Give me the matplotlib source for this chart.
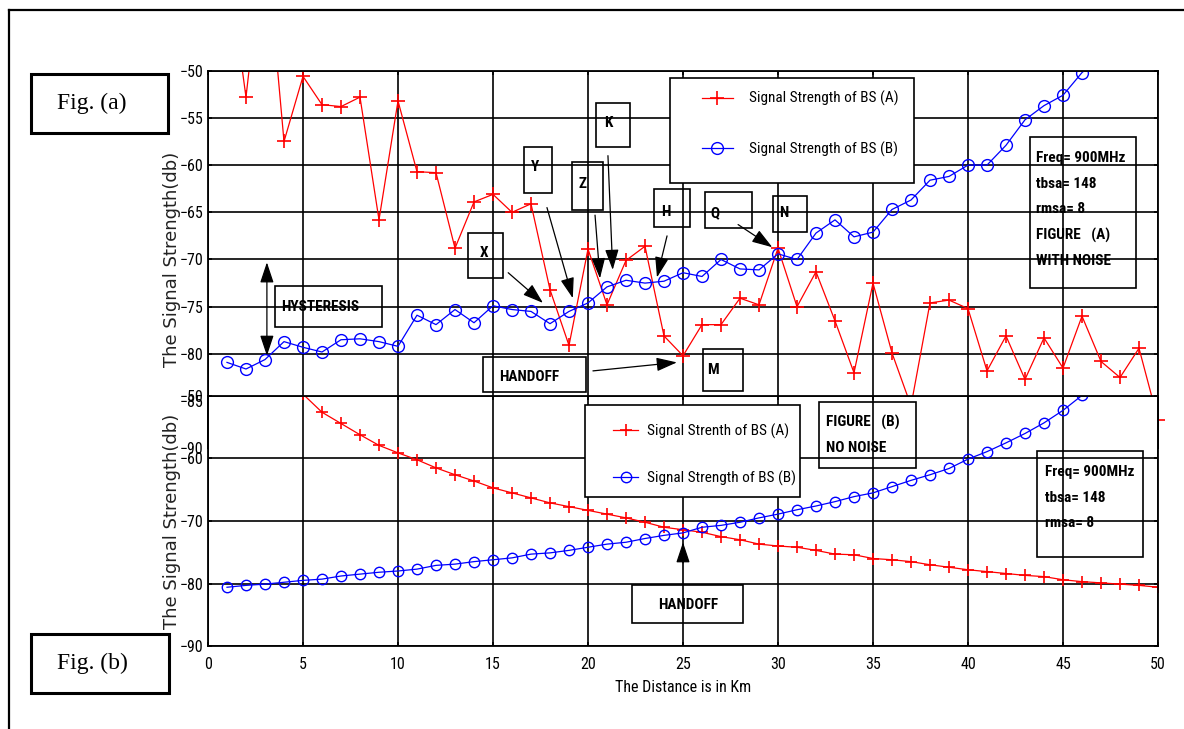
import matplotlib
matplotlib.use('Agg')
import matplotlib.pyplot as plt
from matplotlib import font_manager
from matplotlib.patches import Rectangle
from matplotlib.lines import Line2D

# distance from BS A in km
km = list(range(1, 51))

# Fig. (a): signal strength with noise (db)
noisy_bs_a = [-38.0, -52.8, -35.0, -57.5, -50.6, -53.6, -53.8, -52.8, -65.8, -53.2,
              -60.7, -60.8, -68.8, -63.9, -63.1, -65.0, -64.1, -73.2, -79.1, -68.9,
              -74.8, -70.1, -68.6, -78.1, -80.2, -76.9, -76.9, -74.1, -74.8, -68.8,
              -75.0, -71.3, -76.5, -82.0, -72.5, -79.9, -85.5, -74.6, -74.3, -75.2,
              -81.8, -78.1, -82.7, -78.3, -81.5, -76.0, -80.8, -82.5, -79.4, -87.0]
noisy_bs_b = [-80.9, -81.6, -80.6, -78.7, -79.3, -79.8, -78.5, -78.4, -78.7, -79.2,
              -75.9, -76.9, -75.3, -76.7, -74.9, -75.3, -75.5, -76.8, -75.5, -74.6,
              -72.9, -72.2, -72.5, -72.3, -71.4, -71.8, -70.0, -71.0, -71.1, -69.4,
              -70.0, -67.2, -65.8, -67.6, -67.1, -64.7, -63.7, -61.6, -61.2, -60.0,
              -60.0, -57.9, -55.2, -53.7, -52.6, -50.2, -48.5, -47.0, -45.5, -44.0]

# Fig. (b): same links without noise (db)
clean_bs_a = [-32.0, -39.0, -43.5, -46.5, -49.7, -52.6, -54.4, -56.2, -57.9, -59.1,
              -60.2, -61.5, -62.6, -63.6, -64.7, -65.5, -66.3, -67.1, -67.7, -68.3,
              -68.9, -69.5, -70.2, -71.0, -71.4, -71.8, -72.5, -73.0, -73.7, -74.0,
              -74.2, -74.7, -75.3, -75.4, -76.0, -76.2, -76.5, -77.0, -77.4, -77.8,
              -78.1, -78.4, -78.7, -78.9, -79.4, -79.7, -79.9, -80.1, -80.3, -80.6]
clean_bs_b = [-80.6, -80.3, -80.1, -79.8, -79.5, -79.3, -78.8, -78.5, -78.2, -78.0,
              -77.7, -77.1, -76.9, -76.5, -76.2, -75.9, -75.3, -75.1, -74.7, -74.2,
              -73.7, -73.4, -72.8, -72.3, -71.9, -71.0, -70.7, -70.2, -69.5, -68.9,
              -68.2, -67.6, -66.9, -66.1, -65.5, -64.5, -63.5, -62.6, -61.6, -60.1,
              -58.9, -57.5, -56.0, -54.3, -52.3, -49.9, -47.5, -45.0, -42.3, -39.5]

x_ticks = [0, 5, 10, 15, 20, 25, 30, 35, 40, 45, 50]
top_y_ticks = [-90, -85, -80, -75, -70, -65, -60, -55, -50]
bottom_y_ticks = [-90, -80, -70, -60, -50]

params_a = ['Freq= 900MHz', 'tbsa= 148', 'rmsa= 8', 'FIGURE   (A)', 'WITH NOISE']
params_b = ['Freq= 900MHz', 'tbsa= 148', 'rmsa= 8']

installed = {f.name for f in font_manager.fontManager.ttflist}
narrow = next((n for n in ['Liberation Sans Narrow', 'Roboto Condensed',
                           'Open Sans Condensed', 'Liberation Sans'] if n in installed),
              'DejaVu Sans')
plt.rcParams['font.family'] = narrow

W, H = 1184, 729
fig = plt.figure(figsize=(W / 100, H / 100), dpi=100)


def style_axes(ax, yticks):
    ax.set_xlim(0, 50)
    ax.set_ylim(yticks[0], yticks[-1])
    ax.set_xticks(x_ticks)
    ax.set_yticks(yticks)
    ax.grid(True, color='black', lw=1.2, ls='-')
    for s in ax.spines.values():
        s.set_linewidth(1.3)
    ax.tick_params(direction='in', length=3, width=1.2, top=True, right=True,
                   labelsize=11.5)
    ax.tick_params(axis='x', pad=8)
    ax.tick_params(axis='y', pad=3)
    ax.set_ylabel('The Signal Strength(db)', family='DejaVu Sans', fontsize=13,
                  color='#222222')
    ax.yaxis.set_label_coords(-0.0284, 0.5)


def box(ax, x0, x1, ytop, ybot, lw=1.2):
    ax.add_patch(Rectangle((x0, ybot), x1 - x0, ytop - ybot, fill=False,
                           ec='black', lw=lw, zorder=4))


def arrow(ax, tail, tip, style='-|>,head_length=0.9,head_width=0.3'):
    ax.annotate('', xy=tip, xytext=tail,
                arrowprops=dict(arrowstyle=style, color='black', lw=0.9,
                                mutation_scale=14, shrinkA=0, shrinkB=0),
                zorder=5)


def label(ax, x, y, s, **kw):
    ax.text(x, y, s, fontsize=11, fontweight='bold', ha='center', va='center',
            zorder=5, **kw)


def legend_box(ax, x0, x1, y0, y1, content_x, content_top, spacing, hlen, hpad):
    ax.add_patch(Rectangle((x0, y0), x1 - x0, y1 - y0, transform=ax.transAxes,
                           fc='white', ec='black', lw=1.2, zorder=4.5))
    ax.legend(loc='upper left', bbox_to_anchor=(content_x, content_top),
              borderaxespad=0, borderpad=0, frameon=False, fontsize=11,
              labelspacing=spacing, handlelength=hlen, handletextpad=hpad,
              numpoints=1)


# ---- Fig. (a), with noise ----
ax_a = fig.add_axes([208 / W, 1 - 448.3 / H, 950 / W, 377.6 / H])
style_axes(ax_a, top_y_ticks)
ax_a.tick_params(labelbottom=False)
ax_a.plot(km, noisy_bs_a, color='red', lw=0.9, marker='+', ms=10, mew=1.2,
          label='Signal Strength of BS (A)')
ax_a.plot(km, noisy_bs_b, color='blue', lw=0.9, marker='o', ms=8.5, mfc='none',
          mew=1.0, label='Signal Strength of BS (B)')
# last marker sits on the right frame and is not clipped
ax_a.plot(km[-1:], noisy_bs_a[-1:], color='red', ls='none', marker='+', ms=10,
          mew=1.2, clip_on=False)
legend_box(ax_a, 0.4863, 0.7432, 0.7026, 0.9807, 0.520, 0.9462, 2.3, 2.0, 1.1)

box(ax_a, 3.53, 9.16, -72.8, -77.2)
label(ax_a, 5.9, -75.0, 'HYSTERESIS')
arrow(ax_a, (3.1, -75.0), (3.1, -70.3))
arrow(ax_a, (3.1, -75.0), (3.1, -80.2))

for (x0, x1, yt, yb, tx, ty, s) in [
        (13.68, 15.53, -67.2, -72.0, 14.5, -69.3, 'X'),
        (16.63, 18.10, -58.1, -63.0, 17.2, -60.2, 'Y'),
        (19.16, 20.79, -59.7, -64.8, 19.7, -62.0, 'Z'),
        (20.42, 22.21, -53.4, -58.1, 21.05, -55.5, 'K'),
        (23.47, 25.37, -62.5, -66.6, 24.1, -65.0, 'H'),
        (26.16, 28.63, -62.9, -66.7, 26.7, -65.1, 'Q'),
        (29.74, 31.53, -63.3, -67.1, 30.3, -65.1, 'N'),
        (26.05, 28.16, -79.5, -83.9, 26.6, -81.7, 'M'),
        (14.47, 19.90, -80.3, -84.0, 16.9, -82.5, 'HANDOFF')]:
    box(ax_a, x0, x1, yt, yb)
    label(ax_a, tx, ty, s)

arrow(ax_a, (15.8, -71.4), (17.63, -74.6))
arrow(ax_a, (17.84, -64.5), (19.2, -74.1))
arrow(ax_a, (20.37, -65.3), (20.63, -72.0))
arrow(ax_a, (21.05, -59.0), (21.3, -71.1))
arrow(ax_a, (24.16, -67.5), (23.63, -71.9))
arrow(ax_a, (27.9, -66.3), (29.7, -68.7))
arrow(ax_a, (20.26, -81.8), (24.68, -80.9))

box(ax_a, 43.26, 48.84, -57.0, -73.0)
for i, s in enumerate(params_a):
    ax_a.text(43.6, -59.25 - i * 2.72, s, fontsize=11, fontweight='bold',
              va='center', zorder=5)

# ---- Fig. (b), no noise (pasted over the lower edge of Fig. (a)) ----
ax_b = fig.add_axes([208 / W, 1 - 646 / H, 950 / W, 250 / H])
ax_b.set_facecolor('white')
style_axes(ax_b, bottom_y_ticks)
ax_b.set_xlabel('The Distance is in Km', fontsize=11.5, labelpad=6)
ax_b.plot(km, clean_bs_a, color='red', lw=0.9, marker='+', ms=9, mew=1.2,
          label='Signal Strenth of BS (A)')
ax_b.plot(km, clean_bs_b, color='blue', lw=0.9, marker='o', ms=7.5, mfc='none',
          mew=1.0, label='Signal Strength of BS (B)')
legend_box(ax_b, 0.3968, 0.6232, 0.596, 0.964, 0.4263, 0.890, 2.1, 1.65, 0.6)

box(ax_b, 32.16, 37.26, -50.96, -61.5)
ax_b.text(32.5, -54.3, 'FIGURE   (B)', fontsize=11, fontweight='bold', va='center', zorder=5)
ax_b.text(32.5, -58.3, 'NO NOISE', fontsize=11, fontweight='bold', va='center', zorder=5)

box(ax_b, 43.63, 49.20, -58.8, -75.8)
for i, s in enumerate(params_b):
    ax_b.text(44.05, -62.2 - i * 4.08, s, fontsize=11, fontweight='bold',
              va='center', zorder=5)

box(ax_b, 22.3, 28.16, -80.2, -86.3)
label(ax_b, 25.26, -83.5, 'HANDOFF')
arrow(ax_b, (25, -76.7), (25, -73.4))

# ---- page decoration ----
for (x0, y0, x1, y1, s) in [(31, 74, 168, 133, 'Fig. (a)'), (31, 634, 169, 693, 'Fig. (b)')]:
    fig.add_artist(Rectangle((x0 / W, 1 - y1 / H), (x1 - x0) / W, (y1 - y0) / H,
                             transform=fig.transFigure, fill=False, ec='black', lw=2.2))
    fig.text(92 / W, 1 - (y0 + y1) / 2 / H, s, family='Liberation Serif', fontsize=17,
             ha='center', va='center')
fig.add_artist(Line2D([9 / W, 1], [1 - 10 / H, 1 - 10 / H], transform=fig.transFigure,
                      color='black', lw=1.6))
fig.add_artist(Line2D([9 / W, 9 / W], [0, 1 - 10 / H], transform=fig.transFigure,
                      color='black', lw=1.6))

fig.savefig('out.png', dpi=100, facecolor='white')
